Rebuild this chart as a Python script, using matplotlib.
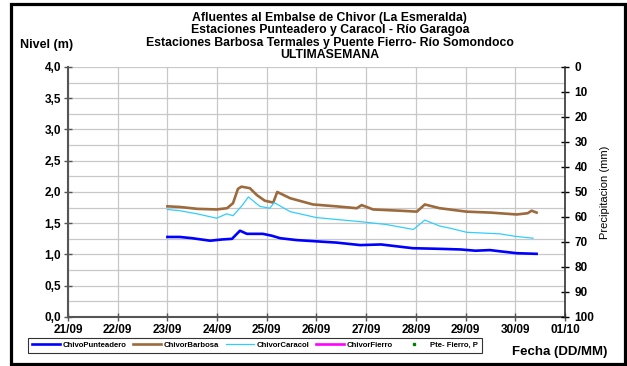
import matplotlib.pyplot as plt
from matplotlib.patches import Rectangle
from matplotlib.ticker import MultipleLocator

plt.rcParams['font.family'] = ['Liberation Sans', 'DejaVu Sans']
plt.rcParams['font.weight'] = 'bold'

# Etiquetas del eje X (dia 21 = 21/09 ... dia 31 = 01/10)
dias = [21, 22, 23, 24, 25, 26, 27, 28, 29, 30, 31]
etiquetas = ['21/09', '22/09', '23/09', '24/09', '25/09', '26/09',
             '27/09', '28/09', '29/09', '30/09', '01/10']

# ChivoPunteadero
t_punt = [23.0, 23.25, 23.5, 23.86, 24.1, 24.3, 24.46, 24.6, 24.92, 25.1, 25.27, 25.6,
          26.0, 26.4, 26.88, 27.3, 27.94, 28.48, 28.9, 29.2, 29.49, 29.7, 30.03, 30.43]
v_punt = [1.28, 1.28, 1.26, 1.22, 1.24, 1.25, 1.38, 1.33, 1.33, 1.30, 1.26, 1.23,
          1.21, 1.19, 1.15, 1.16, 1.10, 1.09, 1.08, 1.06, 1.07, 1.05, 1.02, 1.01]

# ChivorBarbosa
t_barb = [23.0, 23.25, 23.6, 23.99, 24.2, 24.32, 24.42, 24.49, 24.66, 24.8, 24.96,
          25.13, 25.21, 25.47, 25.93, 26.4, 26.81, 26.91, 27.14, 27.68, 28.02, 28.18,
          28.48, 29.02, 29.5, 30.03, 30.25, 30.33, 30.43]
v_barb = [1.77, 1.76, 1.73, 1.72, 1.74, 1.82, 2.05, 2.085, 2.06, 1.95, 1.86,
          1.83, 2.00, 1.90, 1.80, 1.77, 1.74, 1.79, 1.72, 1.70, 1.685, 1.80,
          1.74, 1.685, 1.67, 1.64, 1.66, 1.70, 1.67]

# ChivorCaracol
t_cara = [23.0, 23.25, 23.6, 23.99, 24.19, 24.32, 24.5, 24.63, 24.86, 25.06, 25.15,
          25.47, 26.0, 26.4, 26.88, 27.4, 27.95, 28.18, 28.48, 28.69, 29.02, 29.69,
          30.0, 30.36]
v_cara = [1.72, 1.70, 1.65, 1.58, 1.65, 1.62, 1.78, 1.92, 1.77, 1.74, 1.83,
          1.685, 1.59, 1.56, 1.525, 1.48, 1.40, 1.55, 1.455, 1.42, 1.355, 1.33,
          1.29, 1.26]

# ChivorFierro y precipitacion Pte-Fierro (sin datos en la semana)
t_fier, v_fier = [], []
t_prec, v_prec = [], []

fig = plt.figure(figsize=(6.27, 3.66), dpi=100)
fig.patches.append(Rectangle((0.0183, 0.0068), 0.978, 0.9836, transform=fig.transFigure,
                             fill=False, edgecolor='black', linewidth=2.3))

ax = fig.add_axes([0.1085, 0.134, 0.7925, 0.683])
l1, = ax.plot(t_punt, v_punt, color='#0000FF', linewidth=1.9, label='ChivoPunteadero')
l2, = ax.plot(t_barb, v_barb, color='#9C6A3C', linewidth=1.9, label='ChivorBarbosa')
l3, = ax.plot(t_cara, v_cara, color='#33CCFF', linewidth=0.9, label='ChivorCaracol')
l4, = ax.plot(t_fier, v_fier, color='#FF00FF', linewidth=1.9, label='ChivorFierro')

ax.set_xlim(21, 31)
ax.set_ylim(0, 4)
ax.set_xticks(dias)
ax.set_xticklabels(etiquetas)
ax.yaxis.set_major_locator(MultipleLocator(0.5))
ax.yaxis.set_minor_locator(MultipleLocator(0.25))
ax.yaxis.set_major_formatter(lambda v, p: f'{v:.1f}'.replace('.', ','))
ax.grid(True, which='both', color='#C8C8C8', linewidth=0.9)
ax.tick_params(axis='y', which='minor', length=0)
ax.tick_params(axis='both', which='major', direction='inout', length=6, width=1,
               labelsize=8.5, color='#555555', pad=2)
ax.spines['top'].set_visible(False)
for s in ['left', 'bottom']:
    ax.spines[s].set_color('#555555')
    ax.spines[s].set_linewidth(1.5)
ax.spines['right'].set_visible(False)

ax2 = ax.twinx()
l5, = ax2.plot(t_prec, v_prec, 's', color='#008000', markersize=2, label='Pte- Fierro, P')
ax2.set_ylim(100, 0)
ax2.yaxis.set_major_locator(MultipleLocator(10))
ax2.tick_params(axis='y', direction='inout', length=6, width=1, labelsize=8.5, pad=4)
ax2.spines['right'].set_color('#333333')
ax2.spines['right'].set_linewidth(1.2)
for s in ['top', 'left', 'bottom']:
    ax2.spines[s].set_visible(False)
ax2.set_ylabel('Precipitacion (mm)', fontsize=8, labelpad=4)

titulo = ('Afluentes al Embalse de Chivor (La Esmeralda)\n'
          'Estaciones Punteadero y Caracol - Río Garagoa\n'
          'Estaciones Barbosa Termales y Puente Fierro- Río Somondoco\n'
          'ULTIMASEMANA')
fig.text(0.526, 0.968, titulo, ha='center', va='top', fontsize=8.8, linespacing=1.05)
fig.text(0.032, 0.877, 'Nivel (m)', fontsize=9, ha='left', va='center')
fig.text(0.893, 0.038, 'Fecha (DD/MM)', fontsize=9.5, ha='center', va='center')

leg = fig.legend(handles=[l1, l2, l3, l4, l5], loc='lower left',
                 bbox_to_anchor=(0.0447, 0.0355, 0.724, 0.0383), mode='expand',
                 ncol=5, fontsize=5.6, frameon=True, fancybox=False,
                 edgecolor='black', handlelength=3.6, handletextpad=0.3,
                 borderpad=0.5, columnspacing=1.0, borderaxespad=0)
leg.get_frame().set_linewidth(0.8)

fig.savefig('out.png', dpi=100)
